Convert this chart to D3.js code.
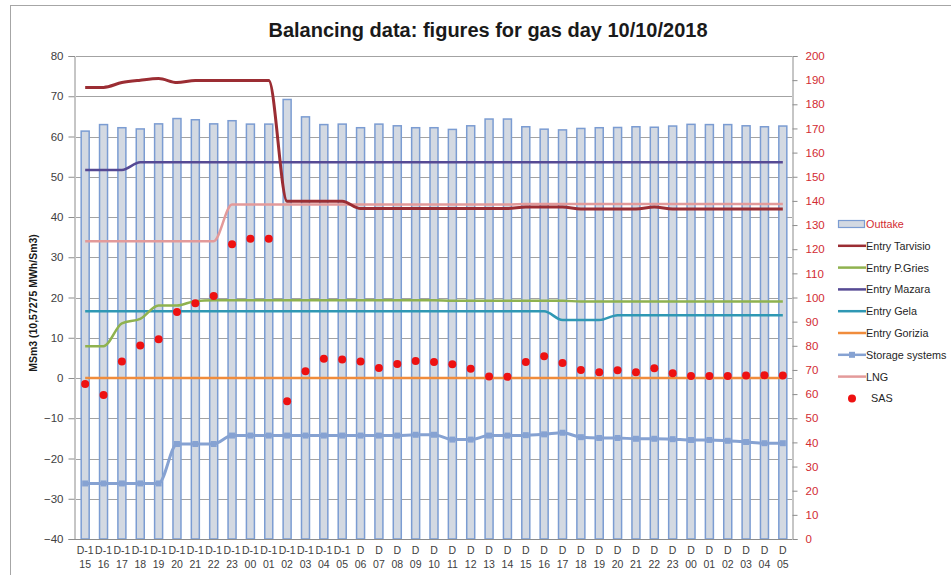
<!DOCTYPE html>
<html>
<head>
<meta charset="utf-8">
<script src="https://cdn.jsdelivr.net/npm/d3@7"></script>
<style>
    body { margin: 0; background: #fff; }
    svg { font-family: "Liberation Sans", Arial, sans-serif; }
</style>
</head>
<body>
<svg id="chart" width="951" height="575"></svg>
<script>
// hour labels on the x axis, first row is D-1 / D
const day_labels = ["D-1", "D-1", "D-1", "D-1", "D-1", "D-1", "D-1", "D-1", "D-1", "D-1", "D-1", "D-1", "D-1", "D-1", "D-1",
    "D", "D", "D", "D", "D", "D", "D", "D", "D", "D", "D", "D", "D", "D", "D", "D", "D", "D", "D", "D", "D", "D", "D", "D"];
const hour_labels = ["15", "16", "17", "18", "19", "20", "21", "22", "23", "00", "01", "02", "03", "04", "05",
    "06", "07", "08", "09", "10", "11", "12", "13", "14", "15", "16", "17", "18", "19", "20", "21", "22", "23",
    "00", "01", "02", "03", "04", "05"];

// right axis
const outtake = [168.9, 171.6, 170.3, 169.8, 171.9, 174.1, 173.6, 171.9, 173.2, 171.8, 171.8, 182.0, 174.8, 171.6, 171.8,
    170.3, 171.8, 171.1, 170.3, 170.3, 169.6, 171.1, 173.9, 173.9, 170.7, 169.7, 169.4, 170.0, 170.3, 170.4, 170.7,
    170.5, 171.0, 171.7, 171.6, 171.6, 171.1, 170.7, 171.0];

// left axis
const entry_tarvisio = [72.2, 72.2, 73.4, 74.0, 74.4, 73.4, 73.9, 73.9, 73.9, 73.9, 73.9, 43.9, 43.9, 43.9, 43.9,
    42.1, 42.1, 42.1, 42.1, 42.1, 42.1, 42.1, 42.1, 42.1, 42.5, 42.5, 42.5, 42.0, 42.0, 42.0, 42.0, 42.5, 42.0,
    42.0, 42.0, 42.0, 42.0, 42.0, 42.0];
const entry_pgries = [7.9, 7.9, 13.6, 14.7, 18.0, 18.0, 19.1, 19.3, 19.3, 19.3, 19.3, 19.3, 19.3, 19.3, 19.3,
    19.3, 19.3, 19.3, 19.3, 19.3, 19.2, 19.2, 19.2, 19.2, 19.2, 19.2, 19.2, 19.0, 19.0, 19.0, 19.0, 19.0, 19.0,
    19.0, 19.0, 19.0, 19.0, 19.0, 19.0];
const entry_mazara = [51.7, 51.7, 51.7, 53.6, 53.6, 53.6, 53.6, 53.6, 53.6, 53.6, 53.6, 53.6, 53.6, 53.6, 53.6,
    53.6, 53.6, 53.6, 53.6, 53.6, 53.6, 53.6, 53.6, 53.6, 53.6, 53.6, 53.6, 53.6, 53.6, 53.6, 53.6, 53.6, 53.6,
    53.6, 53.6, 53.6, 53.6, 53.6, 53.6];
const entry_gela = [16.6, 16.6, 16.6, 16.6, 16.6, 16.6, 16.6, 16.6, 16.6, 16.6, 16.6, 16.6, 16.6, 16.6, 16.6,
    16.6, 16.6, 16.6, 16.6, 16.6, 16.6, 16.6, 16.6, 16.6, 16.6, 16.6, 14.4, 14.4, 14.4, 15.6, 15.6, 15.6, 15.6,
    15.6, 15.6, 15.6, 15.6, 15.6, 15.6];
const entry_gorizia = [0, 0, 0, 0, 0, 0, 0, 0, 0, 0, 0, 0, 0, 0, 0, 0, 0, 0, 0, 0, 0, 0, 0, 0, 0, 0, 0, 0, 0, 0,
    0, 0, 0, 0, 0, 0, 0, 0, 0];
const storage_systems = [-26.2, -26.2, -26.2, -26.2, -26.2, -16.4, -16.4, -16.4, -14.3, -14.3, -14.3, -14.3, -14.3,
    -14.3, -14.3, -14.3, -14.3, -14.3, -14.1, -14.1, -15.3, -15.3, -14.3, -14.3, -14.2, -14.0, -13.6, -14.7, -14.9,
    -14.9, -15.1, -15.1, -15.2, -15.4, -15.4, -15.6, -15.9, -16.2, -16.2];
const lng = [34.0, 34.0, 34.0, 34.0, 34.0, 34.0, 34.0, 34.0, 43.1, 43.1, 43.1, 43.1, 43.1, 43.1, 43.1,
    43.1, 43.1, 43.1, 43.1, 43.1, 43.1, 43.1, 43.1, 43.1, 43.2, 43.2, 43.2, 43.2, 43.2, 43.2, 43.2, 43.2, 43.2,
    43.2, 43.2, 43.2, 43.2, 43.2, 43.2];
const sas = [-1.5, -4.2, 4.1, 8.1, 9.6, 16.4, 18.6, 20.4, 33.2, 34.6, 34.6, -5.8, 1.7, 4.8, 4.6,
    4.1, 2.5, 3.5, 4.2, 4.0, 3.4, 2.3, 0.4, 0.3, 4.0, 5.4, 3.7, 2.0, 1.4, 1.9, 1.4, 2.4, 1.2,
    0.5, 0.5, 0.5, 0.6, 0.7, 0.6];

const left_ticks = [-40, -30, -20, -10, 0, 10, 20, 30, 40, 50, 60, 70, 80];
const right_ticks = [0, 10, 20, 30, 40, 50, 60, 70, 80, 90, 100, 110, 120, 130, 140, 150, 160, 170, 180, 190, 200];

const line_series = [
    {name: "Entry Tarvisio", values: entry_tarvisio, color: "#9b2d33", width: 3},
    {name: "Entry P.Gries", values: entry_pgries, color: "#8fb24f", width: 2.5},
    {name: "Entry Mazara", values: entry_mazara, color: "#564a94", width: 2.5},
    {name: "Entry Gela", values: entry_gela, color: "#2f98b4", width: 2.5},
    {name: "Entry Gorizia", values: entry_gorizia, color: "#f08c3c", width: 2.5},
    {name: "Storage systems", values: storage_systems, color: "#86a2d2", width: 3, marker: true},
    {name: "LNG", values: lng, color: "#e39a9a", width: 2.5}
];

const svg = d3.select("#chart");
const plot = {left: 76, right: 792, top: 56, bottom: 539};

// frame round the whole chart
svg.append("rect")
    .attr("x", 10.5).attr("y", 5.5)
    .attr("width", 980).attr("height", 620)
    .attr("fill", "#fff")
    .attr("stroke", "#a6a6a6");

const x = d3.scaleBand()
    .domain(d3.range(hour_labels.length))
    .range([plot.left, plot.right]);
const y_left = d3.scaleLinear().domain([-40, 80]).range([plot.bottom, plot.top]);
const y_right = d3.scaleLinear().domain([0, 200]).range([plot.bottom, plot.top]);
const cx = i => x(i) + x.bandwidth() / 2;

// gridlines
svg.append("g")
    .selectAll("line")
    .data(left_ticks)
    .join("line")
    .attr("x1", plot.left).attr("x2", plot.right)
    .attr("y1", d => Math.round(y_left(d)) + 0.5)
    .attr("y2", d => Math.round(y_left(d)) + 0.5)
    .attr("stroke", "#a3a3a3")
    .attr("stroke-width", 1.2);

// outtake bars
const bar_w = 8;
svg.append("g")
    .selectAll("rect")
    .data(outtake)
    .join("rect")
    .attr("x", (d, i) => cx(i) - bar_w / 2)
    .attr("width", bar_w)
    .attr("y", d => y_right(d))
    .attr("height", d => plot.bottom - y_right(d))
    .attr("fill", "#d3d9e2")
    .attr("stroke", "#7b9cd2")
    .attr("stroke-width", 1.5);

// left axis
const left_axis = svg.append("g")
    .attr("transform", "translate(" + (plot.left - 1.5) + ",0)")
    .call(d3.axisLeft(y_left).tickValues(left_ticks).tickSize(6).tickPadding(5));
left_axis.select(".domain").attr("stroke", "#8c8c8c");
left_axis.selectAll(".tick line").attr("stroke", "#8c8c8c");
left_axis.selectAll(".tick text")
    .attr("fill", "#404040")
    .style("font-size", "11.5px");

// right axis
const right_axis = svg.append("g")
    .attr("transform", "translate(" + (plot.right + 0.5) + ",0)")
    .call(d3.axisRight(y_right).tickValues(right_ticks).tickSize(5).tickPadding(8));
right_axis.select(".domain").attr("stroke", "#8c8c8c");
right_axis.selectAll(".tick line").attr("stroke", "#8c8c8c");
right_axis.selectAll(".tick text")
    .attr("fill", "#d22b32")
    .style("font-size", "11.5px");

// x axis labels, two rows
const x_axis = svg.append("g");
x_axis.append("line")
    .attr("x1", plot.left - 1.5).attr("x2", plot.right)
    .attr("y1", plot.bottom + 0.5).attr("y2", plot.bottom + 0.5)
    .attr("stroke", "#8c8c8c");
x_axis.selectAll("text.day")
    .data(day_labels)
    .join("text")
    .attr("class", "day")
    .attr("x", (d, i) => cx(i))
    .attr("y", 554)
    .attr("text-anchor", "middle")
    .attr("fill", "#404040")
    .style("font-size", "10.5px")
    .text(d => d);
x_axis.selectAll("text.hour")
    .data(hour_labels)
    .join("text")
    .attr("class", "hour")
    .attr("x", (d, i) => cx(i))
    .attr("y", 568)
    .attr("text-anchor", "middle")
    .attr("fill", "#404040")
    .style("font-size", "10.5px")
    .text(d => d);

// lines
const line = d3.line()
    .x((d, i) => cx(i))
    .y(d => y_left(d))
    .curve(d3.curveMonotoneX);

const order = ["Entry Gorizia", "Storage systems", "Entry Gela", "Entry P.Gries", "Entry Mazara", "LNG", "Entry Tarvisio"];
order.forEach(function (name) {
    let s = line_series.find(d => d.name === name);
    svg.append("path")
        .datum(s.values)
        .attr("d", line)
        .attr("fill", "none")
        .attr("stroke", s.color)
        .attr("stroke-width", s.width)
        .attr("stroke-linejoin", "round");
    if (s.marker) {
        svg.append("g")
            .selectAll("rect")
            .data(s.values)
            .join("rect")
            .attr("x", (d, i) => cx(i) - 3)
            .attr("y", d => y_left(d) - 3)
            .attr("width", 6).attr("height", 6)
            .attr("fill", s.color);
    }
});

// SAS points
svg.append("g")
    .selectAll("circle")
    .data(sas)
    .join("circle")
    .attr("cx", (d, i) => cx(i))
    .attr("cy", d => y_left(d))
    .attr("r", 4)
    .attr("fill", "#ee1111");

// title
svg.append("text")
    .attr("x", 488).attr("y", 37)
    .attr("text-anchor", "middle")
    .style("font-size", "20px")
    .style("font-weight", "bold")
    .attr("fill", "#1a1a1a")
    .text("Balancing data: figures for gas day 10/10/2018");

// y axis title
svg.append("text")
    .attr("transform", "translate(37,303) rotate(-90)")
    .attr("text-anchor", "middle")
    .style("font-size", "10.5px")
    .style("font-weight", "bold")
    .attr("fill", "#1a1a1a")
    .text("MSm3 (10,57275 MWh/Sm3)");

// legend
const legend_items = [{name: "Outtake", type: "bar"}]
    .concat(line_series.map(d => ({name: d.name, type: "line", color: d.color, marker: d.marker})))
    .concat([{name: "SAS", type: "dot"}]);

const legend = svg.append("g").attr("transform", "translate(838,224)");
legend_items.forEach(function (item, i) {
    let g = legend.append("g").attr("transform", "translate(0," + (i * 21.8) + ")");
    if (item.type === "bar") {
        g.append("rect")
            .attr("x", 0.5).attr("y", -3.5)
            .attr("width", 26).attr("height", 7)
            .attr("fill", "#d3d9e2")
            .attr("stroke", "#7b9cd2")
            .attr("stroke-width", 1.2);
    } else if (item.type === "line") {
        g.append("line")
            .attr("x1", 0).attr("x2", 28)
            .attr("stroke", item.color)
            .attr("stroke-width", 2.5);
        if (item.marker) {
            g.append("rect")
                .attr("x", 11).attr("y", -3)
                .attr("width", 6).attr("height", 6)
                .attr("fill", item.color);
        }
    } else {
        g.append("circle")
            .attr("cx", 14).attr("cy", 0).attr("r", 4)
            .attr("fill", "#ee1111");
    }
    g.append("text")
        .attr("x", item.type === "dot" ? 33 : 28)
        .attr("y", 4)
        .style("font-size", "10.8px")
        .attr("fill", item.type === "bar" ? "#d22b32" : "#262626")
        .text(item.name);
});
</script>
</body>
</html>
